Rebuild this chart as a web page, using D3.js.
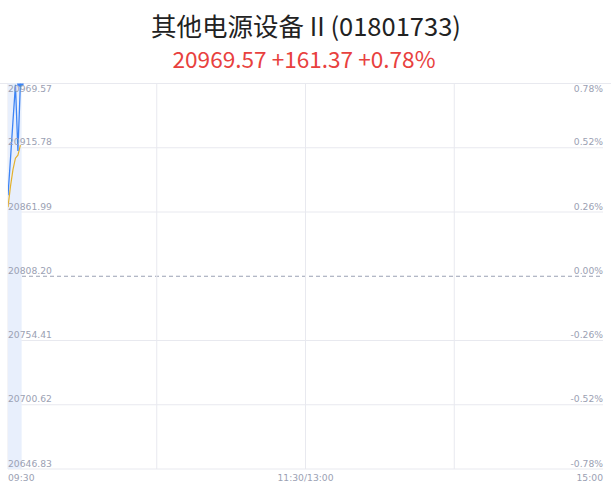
<!DOCTYPE html>
<html><head><meta charset="utf-8">
<script src="https://cdn.jsdelivr.net/npm/d3@7"></script>
<style>
html,body{margin:0;padding:0;background:#fff;}
svg{display:block;}
</style></head>
<body>
<script>
const title = "其他电源设备 II (01801733)";
const subtitle = "20969.57 +161.37 +0.78%";
const leftTicks = [20646.83, 20700.62, 20754.41, 20808.20, 20861.99, 20915.78, 20969.57];
const rightTicks = ["-0.78%", "-0.52%", "-0.26%", "0.00%", "0.26%", "0.52%", "0.78%"];
const timeLabels = ["09:30", "11:30/13:00", "15:00"];
const timeTickMinutes = [0, 60, 120, 180, 240];
const minutes = [0, 1, 2, 3, 4, 5];
const priceValues = [20876.0, 20906.5, 20938.0, 20968.5, 20913.0, 20969.57];
const avgValues = [20866.0, 20883.5, 20897.5, 20907.0, 20909.5, 20918.0];
const prevClose = 20808.20;

const W = 611, H = 492;
const L = 8, R = 603, T = 83.5, B = 469;

const svg = d3.select("body").append("svg").attr("width", W).attr("height", H);
const x = d3.scaleLinear().domain([0, 240]).range([L, R]);
const y = d3.scaleLinear().domain([leftTicks[0], leftTicks[leftTicks.length-1]]).range([B, T]);

// titles
svg.append("text").attr("x", 306).attr("y", 36).attr("text-anchor", "middle")
  .attr("font-family", "'Noto Sans CJK SC','Noto Sans',sans-serif").attr("font-size", 25.5)
  .attr("font-weight", 400).attr("fill", "#222").text(title);
svg.append("text").attr("x", 304).attr("y", 67.5).attr("text-anchor", "middle")
  .attr("font-family", "'Noto Sans CJK SC','Noto Sans',sans-serif").attr("font-size", 22.6)
  .attr("fill", "#e8413e").text(subtitle);

const grid = "#e8e9ef";
// top full-width border
svg.append("line").attr("x1", 0).attr("x2", W).attr("y1", T).attr("y2", T).attr("stroke", grid).attr("stroke-width", 1.2);

// horizontal gridlines
leftTicks.forEach((v, i) => {
  if (i === leftTicks.length - 1) return;
  const yy = y(v);
  if (v === prevClose) {
    svg.append("line").attr("x1", L).attr("x2", R).attr("y1", yy).attr("y2", yy)
      .attr("stroke", "#9aa1b4").attr("stroke-width", 1).attr("stroke-dasharray", "4,3");
  } else {
    svg.append("line").attr("x1", L).attr("x2", R).attr("y1", yy).attr("y2", yy)
      .attr("stroke", grid).attr("stroke-width", 1);
  }
});
// vertical gridlines
timeTickMinutes.slice(0, 4).forEach(m => {
  svg.append("line").attr("x1", x(m)).attr("x2", x(m)).attr("y1", T).attr("y2", B)
    .attr("stroke", grid).attr("stroke-width", 1);
});

// highlight band
const last = minutes[minutes.length - 1];
svg.append("rect").attr("x", x(0)).attr("y", T).attr("width", x(last + 0.5) - x(0)).attr("height", B - T)
  .attr("fill", "#e8effc");

// clip
svg.append("clipPath").attr("id", "clip").append("rect").attr("x", L).attr("y", T).attr("width", R - L).attr("height", B - T);
const g = svg.append("g").attr("clip-path", "url(#clip)");

const line = d3.line().x((d, i) => x(minutes[i])).y(d => y(d));
g.append("path").datum(avgValues).attr("d", line).attr("fill", "none").attr("stroke", "#e3b12c").attr("stroke-width", 1.2);
g.append("path").datum(priceValues).attr("d", line).attr("fill", "none").attr("stroke", "#3d84f5").attr("stroke-width", 1.3);
g.append("circle").attr("cx", x(last)).attr("cy", y(priceValues[priceValues.length - 1])).attr("r", 3.3).attr("fill", "#3d84f5");

// axis labels
const lab = "#9ba1b3";
const font = "'DejaVu Sans',sans-serif";
leftTicks.forEach((v, i) => {
  const top = i === leftTicks.length - 1;
  const yy = top ? y(v) + 8.5 : y(v) - 2.5;
  svg.append("text").attr("x", L).attr("y", yy).attr("font-family", font)
    .attr("font-size", 9.2).attr("fill", lab).text(v.toFixed(2));
  svg.append("text").attr("x", R).attr("y", yy).attr("text-anchor", "end").attr("font-family", font)
    .attr("font-size", 9.2).attr("fill", lab).text(rightTicks[i]);
});
const tx = [x(0), x(120), x(240)];
const anchors = ["start", "middle", "end"];
timeLabels.forEach((t, i) => {
  svg.append("text").attr("x", tx[i]).attr("y", 481).attr("text-anchor", anchors[i]).attr("font-family", font)
    .attr("font-size", 9.2).attr("fill", lab).text(t);
});
</script>
</body></html>
